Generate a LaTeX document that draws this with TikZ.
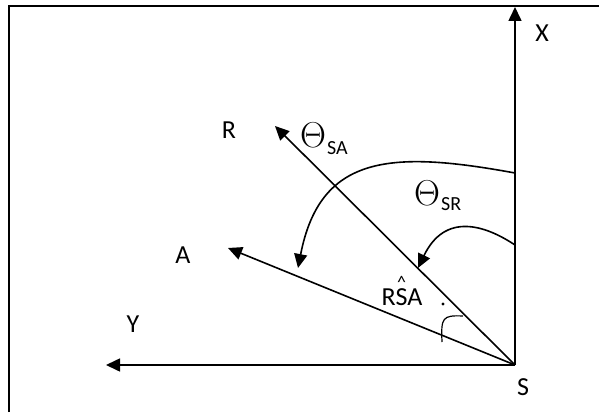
\RequirePackage{fix-cm}
\documentclass[tikz,border=0pt]{standalone}
\usepackage{fontspec}
\setmainfont{Carlito}
\usetikzlibrary{arrows.meta}
\begin{document}
\begin{tikzpicture}[x=1pt,y=-1pt,
  ln/.style={line width=1.6pt},
  arr/.style={ln,-{Triangle[length=14pt,width=13pt]}},
  lbl/.style={inner sep=0pt,font=\fontsize{26}{30}\selectfont},
  th/.style={inner sep=0pt,font=\fontsize{36}{40}\selectfont},
  sub/.style={inner sep=0pt,font=\fontsize{20}{22}\selectfont}]
\useasboundingbox (0,0) rectangle (599,412);
% frame
\draw[line width=2pt] (9,412) -- (9,6) -- (599,6);
% points
\coordinate (S) at (515,365);
\coordinate (Xt) at (515,7);
\coordinate (Yt) at (106,365);
\coordinate (Rt) at (275,126);
\coordinate (At) at (228,248);
\coordinate (saS) at (515,173);
\coordinate (saE) at (298,268);
\coordinate (srS) at (515,245);
\coordinate (srE) at (418,268);
% axes and rays
\draw[arr] (S) -- (Xt);
\draw[arr] (S) -- (Yt);
\draw[arr] (S) -- (Rt);
\draw[arr] (S) -- (At);
% angle arrows
\draw[arr] (saS) .. controls (390,150) and (320,155) .. (saE);
\draw[arr] (srS) .. controls (485,225) and (445,212) .. (srE);
% small angle mark
\coordinate (mA) at (442,342);
\coordinate (mB) at (463,316);
\draw[line width=1.2pt] (mA) .. controls (441,318) and (442,315) .. (mB);
\fill (443,304) circle (1.6pt);
% labels
\node[lbl] (lR) at (229,130) {R};
\node[lbl] (lX) at (542,33) {X};
\node[lbl] (lA) at (183,255) {A};
\node[lbl] (lY) at (133,324) {Y};
\node[lbl] (lS) at (523,387) {S};
\node[th] (tSA) at (313,135) {$\Theta$};
\node[sub,anchor=west] (sSA) at (327,148) {SA};
\node[th] (tSR) at (427,193) {$\Theta$};
\node[sub,anchor=west] (sSR) at (441,204) {SR};
\node[lbl,anchor=base] (lRSA) at (402,305) {R\rlap{\hspace{1.5pt}\raisebox{17pt}{\fontsize{18}{20}\selectfont\textasciicircum}}SA};
\end{tikzpicture}
\end{document}
